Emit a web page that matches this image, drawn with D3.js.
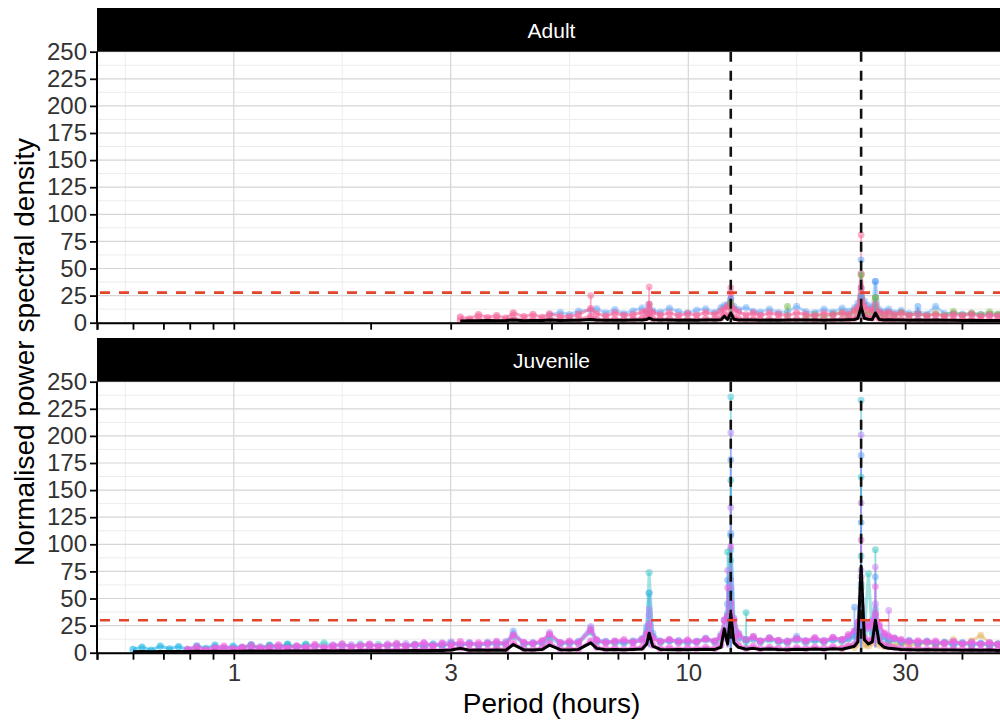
<!DOCTYPE html>
<html>
<head>
<meta charset="utf-8">
<script src="https://cdn.jsdelivr.net/npm/d3@7"></script>
<style>
  body { margin: 0; background: #fff; }
  svg { display: block; font-family: 'Liberation Sans', Arial, sans-serif; }
</style>
</head>
<body>
<svg id="canvas" width="1000" height="720"></svg>
<script>
// period grid (hours) shared by every periodogram, 10 per row
const periods = [
  0.6, 0.628, 0.658, 0.689, 0.722, 0.756, 0.791, 0.829, 0.868, 0.909,
  0.951, 0.996, 1.043, 1.092, 1.144, 1.198, 1.254, 1.313, 1.375, 1.44,
  1.508, 1.579, 1.653, 1.731, 1.813, 1.898, 1.988, 2.081, 2.179, 2.282,
  2.39, 2.502, 2.62, 2.744, 2.873, 3.008, 3.15, 3.299, 3.454, 3.617,
  3.787, 3.966, 4.12, 4.348, 4.553, 4.768, 4.95, 5.228, 5.474, 5.732,
  6.1, 6.285, 6.582, 6.892, 7.217, 7.557, 7.913, 8.1, 8.2, 8.35,
  8.677, 9.086, 9.514, 9.962, 10.43, 10.92, 11.44, 11.8, 12.0, 12.2,
  12.4, 12.6, 12.9, 13.4, 13.9, 14.4, 15.08, 15.79, 16.53, 17.31,
  18.13, 18.98, 19.88, 20.81, 21.8, 22.5, 23.2, 23.6, 24.0, 24.4,
  24.9, 25.4, 25.8, 26.3, 27.0, 27.6, 28.4, 29.4, 30.6, 32.0,
  33.5, 35.0, 36.6, 38.3, 40.1, 42.0, 44.0, 46.0, 48.0, 50.0
]

const xLabelled = [1, 3, 10, 30]
const xUnlabelled = [0.5, 0.6, 0.7, 0.8, 0.9, 2, 4, 5, 6, 7, 8, 9, 20, 40]
const xMinorGrid = [0.577, 1.732, 5.477, 17.32]
const yBreaks = [0, 25, 50, 75, 100, 125, 150, 175, 200, 225, 250]
const yMinorGrid = [12.5, 37.5, 62.5, 87.5, 112.5, 137.5, 162.5, 187.5, 212.5, 237.5]
const rhythmHours = [12.4, 24]

const adultThreshold = 27.7
const juvThreshold = 30

// juvenile individuals (series start index into periods)
const juvCyan = [
  3.0, 5.2, 2.4, 6.0, 3.6, 5.6, 2.8, 6.4, 4.0, 7.0,
  3.4, 6.2, 4.6, 7.4, 3.8, 6.8, 5.0, 8.0, 4.4, 7.2
]
const juvMagenta = [
  3.4, 5.6, 2.9, 4.8,
  6.2, 3.8, 5.1, 6.9, 4.3, 5.7, 7.2, 4.6, 6.4, 5.2,
  7.6, 5.0, 6.3, 8.1, 5.4, 6.8, 7.9, 5.9, 7.1, 8.6,
  6.0, 7.7, 9.2, 6.4, 8.3, 7.0, 10.2, 7.6, 9.0, 8.2,
  10.4, 7.8, 16.0, 9.6, 8.4, 11.2, 17.0, 9.2, 10.6, 8.8,
  21.0, 11.4, 9.0, 10.8, 12.0, 9.4, 11.6, 17.5, 26.0, 13.0,
  10.2, 12.4, 9.6, 11.8, 10.0, 12.6, 11.0, 15.0, 30.0, 34.0,
  46.0, 30.0, 17.0, 12.0, 15.0, 10.6, 13.2, 11.4, 10.2, 13.0,
  11.0, 13.8, 10.4, 14.2, 12.0, 16.8, 20.0, 28.0, 42.0, 26.0,
  24.0, 28.0, 36.0, 26.0, 18.0, 15.6, 13.4, 12.2, 10.0, 11.0,
  9.6, 10.8, 8.6, 10.2, 8.0, 9.6, 7.8, 9.2, 7.4, 8.6
]
const juvFloor = [
  1.6, 2.8, 1.2, 3.0,
  2.0, 1.4, 3.2, 1.8, 2.6, 1.5, 3.4, 2.2, 1.7, 3.0,
  2.4, 1.6, 3.6, 2.0, 2.8, 1.8, 3.8, 2.4, 2.0, 3.4,
  2.6, 1.9, 4.0, 2.8, 2.2, 3.6, 4.4, 2.6, 3.2, 2.4,
  4.0, 2.8, 9.0, 3.4, 2.8, 4.6, 9.5, 3.2, 3.8, 3.0,
  11.0, 5.0, 3.4, 4.2, 3.0, 4.4, 5.0, 9.0, 16.0, 7.0,
  3.6, 4.8, 3.2, 4.4, 3.6, 5.0, 3.8, 7.0, 20.0, 12.0,
  30.0, 14.0, 7.0, 4.2, 6.0, 3.6, 5.0, 4.0, 3.4, 4.8,
  3.6, 5.2, 3.8, 5.6, 4.2, 6.4, 8.0, 13.0, 30.0, 14.0,
  11.0, 12.0, 24.0, 12.0, 7.0, 5.6, 4.8, 4.0, 3.4, 4.2,
  3.2, 4.0, 3.0, 3.8, 2.8, 3.6, 2.6, 3.4, 2.4, 3.2
]
const juvPurple = [
  2.8,
  4.5, 3.0, 5.0, 3.4, 5.6, 3.8, 6.2, 4.1, 6.0, 4.4,
  6.6, 4.8, 7.2, 5.1, 7.5, 5.4, 7.8, 5.7, 8.2, 6.0,
  8.4, 6.3, 8.8, 6.6, 9.2, 10.0, 7.0, 9.4, 7.4, 9.8,
  7.8, 10.2, 17.0, 9.0, 9.4, 10.2, 18.5, 9.4, 9.8, 10.0,
  24.0, 12.0, 10.2, 10.4, 10.0, 10.8, 12.6, 18.0, 35.0, 14.0,
  10.5, 11.6, 11.0, 10.4, 10.2, 12.8, 10.0, 15.0, 20.0, 32.0,
  60.0, 22.0, 14.0, 12.0, 13.5, 11.0, 14.0, 11.2, 11.0, 12.6,
  10.4, 13.8, 11.4, 14.0, 12.0, 15.0, 20.0, 28.0, 70.0, 26.0,
  22.0, 30.0, 45.0, 24.0, 17.0, 14.5, 13.0, 11.5, 10.6, 10.0,
  10.8, 9.6, 9.0, 10.0, 8.8, 9.4, 8.2, 9.0, 8.0, 8.6
]
const juvBlue = [
  5.2, 7.0, 5.5, 7.6, 5.8, 8.2, 6.4, 8.8, 6.8, 8.4,
  9.4, 7.2, 20.0, 8.6, 8.8, 9.8, 16.0, 9.0, 9.2, 10.4,
  22.0, 11.0, 10.4, 10.0, 9.8, 10.6, 13.0, 24.0, 55.0, 18.0,
  10.8, 11.0, 11.2, 10.0, 10.6, 13.4, 10.4, 17.0, 30.0, 45.0,
  110.0, 32.0, 18.0, 12.0, 14.5, 10.4, 13.2, 11.0, 10.0, 15.0,
  11.0, 11.6, 10.8, 12.2, 11.6, 12.8, 16.0, 21.0, 50.0, 22.0,
  28.0, 19.0, 35.0, 18.0, 15.0, 11.0, 13.5, 9.6, 11.4, 8.6,
  10.4, 8.2, 9.8, 7.6, 9.4, 7.0, 8.8, 6.6, 8.2, 6.4
]
const juvTeal = [
  4.0, 6.5, 4.6, 7.0, 5.0, 7.4, 5.4, 8.0,
  5.8, 9.0, 6.2, 7.8, 5.6, 8.2, 6.0, 7.6, 5.8, 8.0,
  6.2, 7.8, 5.9, 8.2, 6.4, 8.8, 6.8, 8.2, 6.6, 8.6,
  7.0, 9.0, 15.0, 7.8, 8.2, 8.6, 13.0, 8.2, 8.6, 8.8,
  19.0, 9.6, 9.4, 9.0, 9.0, 9.4, 11.2, 21.0, 74.0, 15.0,
  9.0, 11.0, 9.2, 9.4, 9.6, 11.8, 9.2, 13.0, 21.0, 35.0,
  95.0, 26.0, 13.0, 10.0, 12.2, 9.4, 11.6, 9.8, 9.0, 11.4,
  9.0, 11.2, 9.4, 12.0, 10.0, 13.0, 15.0, 25.0, 60.0, 18.0,
  73.0, 16.0, 40.0, 14.0, 13.0, 10.0, 12.0, 8.8, 10.4, 8.0,
  9.6, 7.6, 9.2, 7.0, 8.6, 6.6, 8.2, 6.2, 7.8, 6.0
]
const juvOrange = [
  4.0, 6.0, 5.0, 8.0, 12.0, 7.0,
  6.0, 9.0, 14.0, 7.0, 5.5, 8.0, 6.0, 9.5, 6.5, 8.0,
  10.0, 7.0, 9.0, 12.0, 8.0, 11.0, 16.0, 9.0, 8.0, 10.0
]
const juvMean = [
  0.8, 1.0, 0.9, 1.1, 1.0, 1.2, 1.1, 1.3, 1.2, 1.3,
  1.2, 1.4, 1.3, 1.5, 1.4, 1.5, 1.4, 1.6, 1.5, 1.6,
  1.5, 1.7, 1.6, 1.7, 1.6, 1.8, 1.7, 1.8, 1.7, 1.9,
  1.8, 2.0, 1.9, 2.1, 2.0, 2.4, 4.0, 2.2, 2.6, 2.2,
  2.4, 2.3, 7.5, 2.6, 2.4, 3.0, 7.0, 2.8, 2.6, 3.0,
  9.0, 4.0, 2.8, 3.0, 2.7, 3.0, 3.4, 8.0, 18.0, 6.0,
  3.0, 2.8, 3.0, 2.7, 2.9, 3.2, 3.0, 5.0, 22.0, 8.0,
  36.0, 9.0, 5.0, 3.2, 4.0, 3.0, 3.4, 3.0, 2.8, 3.2,
  2.9, 3.4, 3.0, 3.6, 3.2, 4.5, 6.0, 10.0, 80.0, 12.0,
  8.0, 10.0, 30.0, 9.0, 5.0, 4.0, 3.6, 3.0, 2.8, 2.6,
  2.8, 2.5, 2.4, 2.6, 2.3, 2.5, 2.2, 2.4, 2.1, 2.3
]
// individual peaks stacked on the rhythm lines
const juvPeakHours = [12.4, 12.4, 12.4, 12.4, 12.4, 12.4, 12.4, 12.4, 12.4, 12.4,
  12.2, 12.2, 12.2, 12.2, 24, 24, 24, 24, 24, 24, 24, 24, 24, 24,
  25.8, 25.8, 25.8, 25.8, 8.2, 8.2, 23.2, 13.4, 27.6]
const juvPeakPower = [236, 203, 178, 159, 134, 108, 98, 85, 67, 55,
  93, 76, 67, 60, 233, 201, 182, 162, 138, 120, 104, 89, 76, 64,
  95, 79, 70, 61, 55, 40, 42, 37, 39]

// adult individuals
const adultPink = [
  5.2, 3.6, 7.4, 4.8,
  6.6, 4.2, 9.0, 5.6, 7.8, 4.9, 8.2, 6.0, 5.4, 7.6,
  13.0, 8.4, 6.2, 8.8, 6.8, 7.4, 9.6, 11.0, 17.0, 9.4,
  7.2, 9.0, 6.6, 8.4, 7.0, 9.4, 7.8, 10.6, 12.5, 15.0,
  27.0, 12.4, 9.8, 7.2, 9.0, 6.8, 8.8, 7.6, 6.6, 9.0,
  7.8, 6.4, 8.6, 7.2, 9.2, 7.6, 11.2, 14.0, 45.0, 15.0,
  12.0, 11.4, 17.0, 10.0, 8.4, 9.6, 7.4, 8.8, 6.8, 8.2,
  6.4, 7.8, 6.0, 7.4, 6.6, 8.0, 5.8, 7.2, 6.2, 7.6
]
const adultFloor = [
  2.2, 1.4, 3.0, 1.8,
  2.6, 1.6, 4.2, 2.0, 3.2, 1.8, 3.6, 2.4, 2.0, 3.0,
  6.0, 3.2, 2.4, 3.4, 2.6, 3.0, 4.0, 5.0, 8.0, 3.6,
  2.8, 3.6, 2.4, 3.2, 2.6, 3.6, 3.0, 4.4, 7.0, 6.0,
  14.0, 5.0, 3.6, 2.8, 3.4, 2.6, 3.2, 2.8, 2.4, 3.4,
  2.8, 2.4, 3.2, 2.6, 3.4, 2.8, 4.2, 6.0, 20.0, 6.0,
  5.0, 4.4, 10.0, 4.0, 3.2, 3.6, 2.8, 3.2, 2.6, 3.0,
  2.4, 3.0, 2.2, 2.8, 2.4, 3.0, 2.2, 2.6, 2.2, 2.8
]
const adultBlue = [
  7.0, 9.6, 7.4, 10.8,
  11.5, 13.0, 9.0, 12.0, 8.4, 11.0, 13.6, 9.4, 17.0, 11.0,
  9.8, 13.4, 10.2, 9.0, 11.6, 12.8, 9.6, 14.0, 16.0, 17.0,
  22.0, 15.0, 12.0, 14.0, 10.4, 9.8, 12.6, 9.4, 10.0, 15.0,
  10.2, 9.4, 12.6, 9.8, 13.4, 10.6, 14.0, 18.0, 32.0, 20.0,
  16.0, 14.0, 38.0, 12.0, 10.4, 12.6, 9.2, 11.4, 8.6, 10.2,
  8.0, 15.0, 8.6, 8.6, 8.0, 8.2, 7.8, 7.8, 7.4, 7.4
]
const adultGreen = [
  5.0, 7.4, 5.4, 8.0, 9.0, 6.0, 10.0, 12.0, 24.0, 10.0,
  8.0, 10.0, 23.0, 8.0, 6.4, 8.6, 6.0, 9.4, 6.6, 8.2,
  6.2, 8.8, 6.6, 10.4, 7.0, 9.2, 7.4, 10.0, 8.0, 11.0
]
const adultMean = [
  1.6, 1.9, 1.7, 2.0,
  1.8, 2.0, 2.6, 1.9, 2.1, 2.0, 2.4, 2.1, 2.2, 2.2,
  3.0, 2.4, 2.2, 2.3, 2.2, 2.4, 2.6, 3.0, 4.2, 2.8,
  2.4, 2.5, 2.3, 2.4, 2.3, 2.5, 2.4, 2.8, 6.0, 3.0,
  9.0, 3.2, 2.6, 2.4, 2.6, 2.3, 2.5, 2.3, 2.4, 2.6,
  2.4, 2.5, 2.3, 2.6, 2.5, 2.8, 3.0, 4.0, 14.5, 4.0,
  3.2, 3.0, 9.0, 3.0, 2.6, 2.8, 2.5, 2.6, 2.3, 2.4,
  2.3, 2.4, 2.2, 2.3, 2.1, 2.2, 2.0, 2.1, 2.0, 2.1
]
const adultPeakHours = [12.4, 12.4, 12.4, 24, 24, 24, 24, 24, 25.8, 8.2, 25.8, 16.53, 6.1, 32]
const adultPeakPower = [32, 22, 18, 81, 58, 44, 32, 24, 23, 33, 38, 15, 25, 15]

const canvas = d3.select('#canvas')
const left = 97
const right = 1006

const x = d3.scaleLog().domain([0.5, 50]).range([left, right])

const panels = [
  {
    name: 'Adult', top: 51.7, bottom: 322.7, threshold: adultThreshold, labels: false,
    series: [
      {values: adultBlue, start: 46, colour: '#4F9CF5', alpha: 0.4},
      {values: adultGreen, start: 80, colour: '#6DB33F', alpha: 0.4},
      {values: adultFloor, start: 36, colour: '#F5639A', alpha: 0.6},
      {values: adultPink, start: 36, colour: '#F5639A', alpha: 0.6}
    ],
    peakHours: adultPeakHours, peakPower: adultPeakPower,
    peakColours: ['#F5639A', '#4F9CF5', '#6DB33F'],
    mean: adultMean, meanStart: 36
  },
  {
    name: 'Juvenile', top: 381.7, bottom: 652.7, threshold: juvThreshold, labels: true,
    series: [
      {values: juvCyan, start: 0, colour: '#1EB4E6', alpha: 0.6},
      {values: juvTeal, start: 12, colour: '#2EC4C0', alpha: 0.45},
      {values: juvOrange, start: 84, colour: '#D9A33A', alpha: 0.4},
      {values: juvBlue, start: 30, colour: '#5C9DF5', alpha: 0.45},
      {values: juvPurple, start: 9, colour: '#B582F5', alpha: 0.5},
      {values: juvFloor, start: 6, colour: '#EE5FE0', alpha: 0.6},
      {values: juvMagenta, start: 6, colour: '#EE5FE0', alpha: 0.6}
    ],
    peakHours: juvPeakHours, peakPower: juvPeakPower,
    peakColours: ['#3CC4D4', '#B582F5', '#5C9DF5', '#2EC4C0', '#C77CF2', '#4FA8F0', '#EE5FE0'],
    mean: juvMean, meanStart: 0
  }
]

let drawPanel = (p, i) => {
  const y = d3.scaleLinear().domain([0, 250]).range([p.bottom, p.top])
  const g = canvas.append('g')

  g.append('clipPath').attr('id', 'clip' + i)
    .append('rect')
    .attr('x', left).attr('y', p.top)
    .attr('width', right - left).attr('height', p.bottom - p.top)

  // grid
  g.selectAll('.ymin').data(yMinorGrid).enter().append('line')
    .attr('x1', left).attr('x2', right)
    .attr('y1', d => y(d)).attr('y2', d => y(d))
    .attr('stroke', '#ececec').attr('stroke-width', 1)
  g.selectAll('.xmin').data(xMinorGrid).enter().append('line')
    .attr('x1', d => x(d)).attr('x2', d => x(d))
    .attr('y1', p.top).attr('y2', p.bottom)
    .attr('stroke', '#ececec').attr('stroke-width', 1)
  g.selectAll('.ymaj').data(yBreaks).enter().append('line')
    .attr('x1', left).attr('x2', right)
    .attr('y1', d => y(d)).attr('y2', d => y(d))
    .attr('stroke', '#d6d6d6').attr('stroke-width', 1.2)
  g.selectAll('.xmaj').data(xLabelled).enter().append('line')
    .attr('x1', d => x(d)).attr('x2', d => x(d))
    .attr('y1', p.top).attr('y2', p.bottom)
    .attr('stroke', '#d6d6d6').attr('stroke-width', 1.2)

  const plot = g.append('g').attr('clip-path', 'url(#clip' + i + ')')

  let line = d3.line().x(d => x(d[0])).y(d => y(d[1]))

  p.series.forEach(s => {
    let pts = s.values.map((v, k) => [periods[s.start + k], v])
    plot.append('path').datum(pts)
      .attr('d', line)
      .attr('fill', 'none')
      .attr('stroke', s.colour)
      .attr('stroke-width', 3)
      .attr('stroke-opacity', s.alpha)
    plot.append('g').selectAll('circle').data(pts).enter().append('circle')
      .attr('cx', d => x(d[0]))
      .attr('cy', d => y(d[1]))
      .attr('r', 3.6)
      .attr('fill', s.colour)
      .attr('fill-opacity', s.alpha)
  })

  // individual peaks
  let peaks = p.peakHours.map((h, k) => [h, p.peakPower[k], p.peakColours[k % p.peakColours.length]])
  plot.append('g').selectAll('line').data(peaks).enter().append('line')
    .attr('x1', d => x(d[0])).attr('x2', d => x(d[0]))
    .attr('y1', y(5)).attr('y2', d => y(d[1]))
    .attr('stroke', d => d[2]).attr('stroke-width', 1.8).attr('stroke-opacity', 0.55)
  plot.append('g').selectAll('circle').data(peaks).enter().append('circle')
    .attr('cx', d => x(d[0])).attr('cy', d => y(d[1]))
    .attr('r', 3.4)
    .attr('fill', d => d[2]).attr('fill-opacity', 0.5)

  // mean periodogram
  let meanPts = p.mean.map((v, k) => [periods[p.meanStart + k], v])
  plot.append('path').datum(meanPts)
    .attr('d', line)
    .attr('fill', 'none')
    .attr('stroke', '#000')
    .attr('stroke-width', 3)
    .attr('stroke-linejoin', 'round')

  // reference lines
  plot.selectAll('.rhythm').data(rhythmHours).enter().append('line')
    .attr('x1', d => x(d)).attr('x2', d => x(d))
    .attr('y1', p.top).attr('y2', p.bottom)
    .attr('stroke', '#111').attr('stroke-width', 2.6)
    .attr('stroke-dasharray', '10,9')
  plot.append('line')
    .attr('x1', left + 3).attr('x2', right)
    .attr('y1', y(p.threshold)).attr('y2', y(p.threshold))
    .attr('stroke', '#E2452A').attr('stroke-width', 2.6)
    .attr('stroke-dasharray', '10,9')

  // axes
  const yAxis = g.append('g').attr('transform', 'translate(' + left + ',0)')
    .call(d3.axisLeft(y).tickValues(yBreaks).tickSize(7).tickPadding(3))
  const xAxis = g.append('g').attr('transform', 'translate(0,' + p.bottom + ')')
    .call(d3.axisBottom(x).tickValues(xLabelled.concat(xUnlabelled))
      .tickSize(7).tickPadding(4)
      .tickFormat(d => (p.labels && xLabelled.includes(d)) ? d : ''))
  ;[yAxis, xAxis].forEach(a => {
    a.select('.domain').attr('stroke', '#000').attr('stroke-width', 2)
    a.selectAll('.tick line').attr('stroke', '#000').attr('stroke-width', 1.8)
    a.selectAll('.tick text')
      .attr('fill', '#333')
      .style('font-size', '24px')
      .style('font-family', "'Liberation Sans', Arial, sans-serif")
  })
  yAxis.select('.domain').attr('d', 'M0,' + p.top + 'V' + p.bottom)

  // strip
  g.append('rect')
    .attr('x', left).attr('y', p.top - 43.7)
    .attr('width', right - left + 10).attr('height', 43.7)
    .attr('fill', '#000')
  g.append('text')
    .attr('x', (left + right) / 2).attr('y', p.top - 14)
    .attr('text-anchor', 'middle')
    .attr('fill', '#fff')
    .style('font-size', '21px')
    .text(p.name)
}

panels.forEach(drawPanel)

canvas.append('text')
  .attr('transform', 'translate(34,352) rotate(-90)')
  .attr('text-anchor', 'middle')
  .style('font-size', '28px')
  .text('Normalised power spectral density')

canvas.append('text')
  .attr('x', (left + right) / 2).attr('y', 713)
  .attr('text-anchor', 'middle')
  .style('font-size', '28px')
  .text('Period (hours)')
</script>
</body>
</html>
